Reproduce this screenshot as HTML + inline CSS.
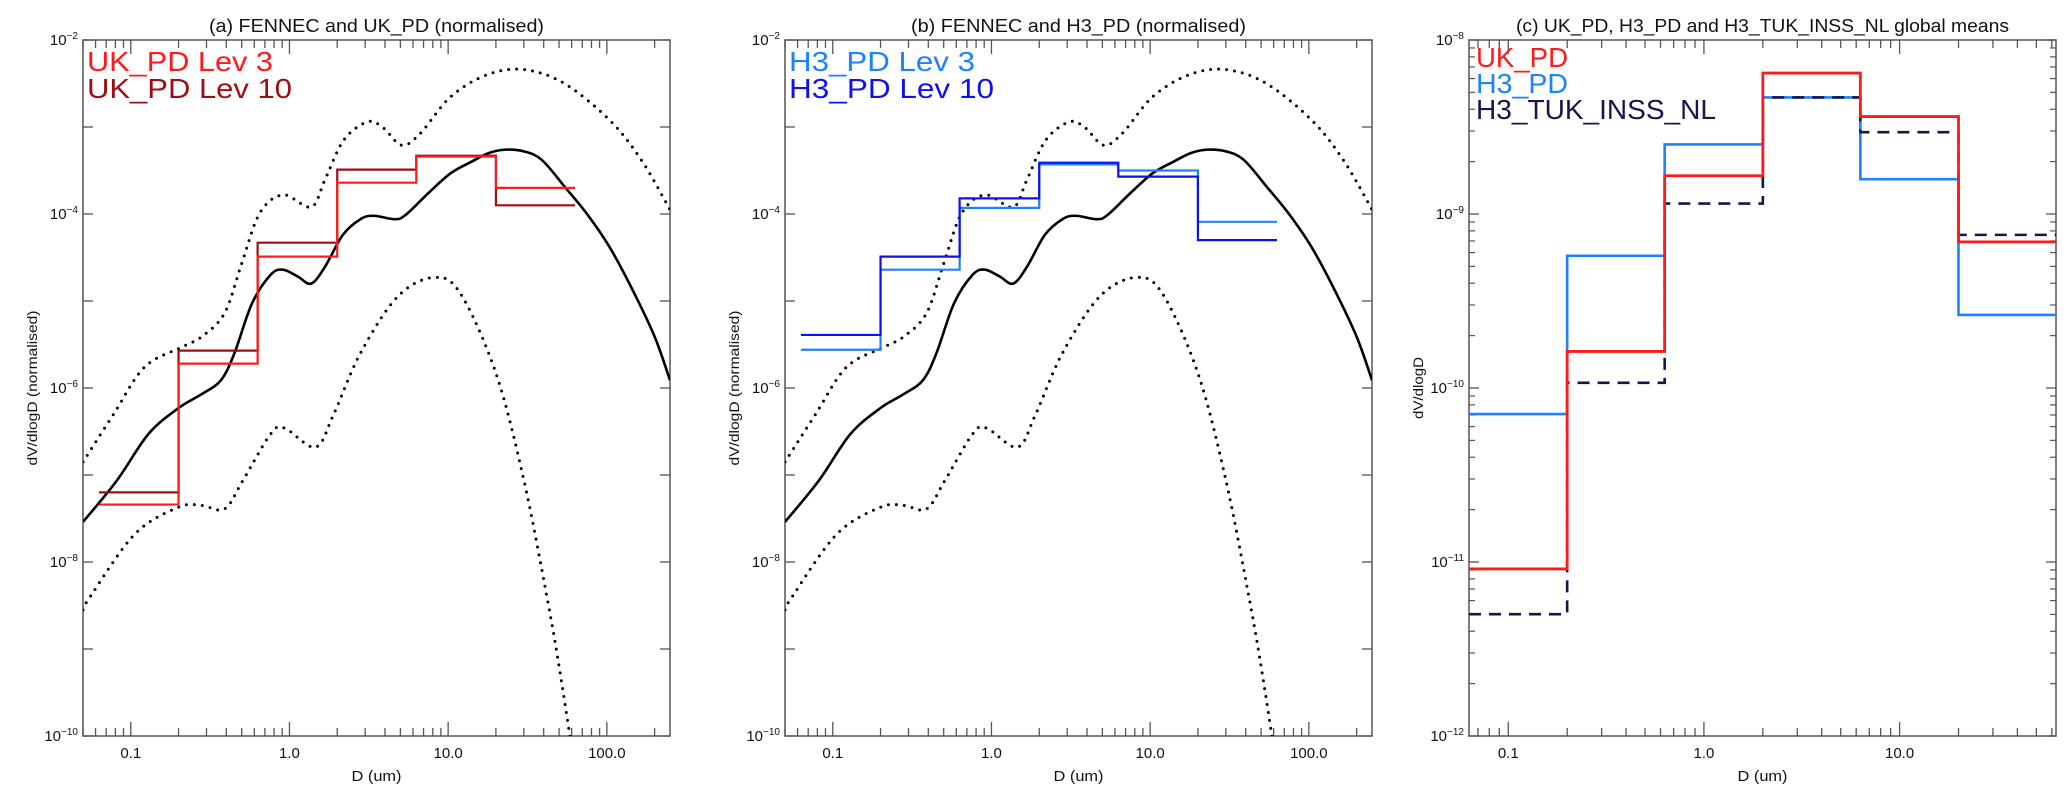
<!DOCTYPE html>
<html><head><meta charset="utf-8"><style>
html,body{margin:0;padding:0;background:#fff;}
svg{display:block;font-family:"Liberation Sans",sans-serif;}
</style></head><body>
<svg id="fig" width="2067" height="797" viewBox="0 0 2067 797"></svg>
<script>
// ---- data ----
const binEdges = [0.063, 0.2, 0.63, 2, 6.3, 20, 63];
const fennecD = [0.05,0.082,0.129,0.2,0.28,0.37,0.45,0.58,0.76,0.91,1.13,1.37,1.67,2.17,2.8,3.4,4.6,5.4,7.5,10.4,14,18,23,30,39,55,75,104,145,200,250];
const fennecMean = [-7.54,-7.06,-6.53,-6.23,-6.07,-5.91,-5.60,-5.03,-4.70,-4.64,-4.72,-4.80,-4.61,-4.24,-4.06,-4.02,-4.06,-4.01,-3.76,-3.53,-3.40,-3.30,-3.26,-3.28,-3.38,-3.70,-4.00,-4.38,-4.87,-5.41,-5.91];
const upperD = [0.05,0.078,0.122,0.21,0.28,0.39,0.50,0.65,0.91,1.37,1.67,2.2,3.1,3.9,5.1,6.7,10.4,17.6,30,54,104,165,250];
const upperVal = [-6.85,-6.30,-5.76,-5.53,-5.41,-5.14,-4.57,-3.99,-3.78,-3.92,-3.61,-3.15,-2.94,-3.01,-3.21,-3.07,-2.65,-2.40,-2.34,-2.50,-2.92,-3.38,-3.95];
const lowerD = [0.05,0.055,0.106,0.2,0.28,0.39,0.51,0.76,0.93,1.46,1.9,2.8,4.8,8.1,11.9,20,30,42,50,62];
const lowerVal = [-8.55,-8.41,-7.68,-7.37,-7.35,-7.39,-7.06,-6.53,-6.46,-6.68,-6.30,-5.60,-4.95,-4.73,-4.91,-5.83,-7.06,-8.41,-9.2,-10.3];
const ukLev3 = [-7.34,-5.72,-4.49,-3.64,-3.34,-3.70];
const ukLev10 = [-7.20,-5.57,-4.33,-3.49,-3.33,-3.90];
const h3Lev3 = [-5.56,-4.64,-3.93,-3.43,-3.50,-4.09];
const h3Lev10 = [-5.39,-4.49,-3.82,-3.41,-3.57,-4.30];
const ukMean = [-11.04,-9.79,-8.78,-8.19,-8.44,-9.16];
const h3Mean = [-10.15,-9.24,-8.60,-8.33,-8.80,-9.58];
const tukMean = [-11.30,-9.97,-8.94,-8.33,-8.53,-9.12];
const xLabelsAB = ["0.1","1.0","10.0","100.0"];
const xLabelsC = ["0.1","1.0","10.0"];

const NS="http://www.w3.org/2000/svg";
const svg=document.getElementById('fig');
function mk(tag,attrs,parent){const e=document.createElementNS(NS,tag);for(const k in attrs)e.setAttribute(k,attrs[k]);(parent||svg).appendChild(e);return e;}

function makePanel(id,x0,x1,y0,y1,xmin,xmax,ymin,ymax){
  const lx0=Math.log10(xmin),lx1=Math.log10(xmax);
  return {id,x0,x1,y0,y1,ymin,ymax,
    sx:d=>x0+(Math.log10(d)-lx0)/(lx1-lx0)*(x1-x0),
    sy:l=>y1-(l-ymin)/(ymax-ymin)*(y1-y0)};
}
const pA=makePanel('a',83,670,40,736,0.05,250,-10,-2);
const pB=makePanel('b',785,1372,40,736,0.05,250,-10,-2);
const pC=makePanel('c',1469,2056,40,736,0.063,63,-12,-8);

function axes(p,labels,majors,yMinor,title,titleLen,ytitle,ytitleLen){
  const g=mk('g',{});
  
  
  const cp=mk('clipPath',{id:'clip'+p.id},g);
  mk('rect',{x:p.x0,y:p.y0,width:p.x1-p.x0,height:p.y1-p.y0},cp);
  const fr=mk('rect',{x:p.x0,y:p.y0,width:p.x1-p.x0,height:p.y1-p.y0,fill:'none',stroke:'#555','stroke-width':1.5},g);
  
  
  for(let e=-2;e<=2;e++){for(let m=1;m<=9;m++){const d=m*Math.pow(10,e);const x=p.sx(d);
    if(x<p.x0-0.5||x>p.x1+0.5)continue;const L=m===1?14:8;
    mk('line',{x1:x,x2:x,y1:p.y1,y2:p.y1-L,stroke:'#555','stroke-width':1.3},g);
    mk('line',{x1:x,x2:x,y1:p.y0,y2:p.y0+L,stroke:'#555','stroke-width':1.3},g);}}
  majors.forEach((d,i)=>{const t=mk('text',{x:p.sx(d),y:758,'font-size':15,'text-anchor':'middle',fill:'#111'},g);t.textContent=labels[i];
    
    });
  const xt=mk('text',{x:(p.x0+p.x1)/2,y:781,'font-size':15,'text-anchor':'middle',fill:'#111',textLength:50,lengthAdjust:'spacingAndGlyphs'},g);xt.textContent='D (um)';
  
  
  for(let l=p.ymin;l<=p.ymax;l++){const y=p.sy(l);
    mk('line',{x1:p.x0,x2:p.x0+10,y1:y,y2:y,stroke:'#555','stroke-width':1.3},g);
    mk('line',{x1:p.x1,x2:p.x1-10,y1:y,y2:y,stroke:'#555','stroke-width':1.3},g);
    if(yMinor&&l<p.ymax){for(let m=2;m<=9;m++){const yy=p.sy(l+Math.log10(m));
      mk('line',{x1:p.x0,x2:p.x0+6,y1:yy,y2:yy,stroke:'#555','stroke-width':1.2},g);
      mk('line',{x1:p.x1,x2:p.x1-6,y1:yy,y2:yy,stroke:'#555','stroke-width':1.2},g);}}
    if(yMinor||(l%2===0)){const t=mk('text',{x:p.x0-5,y:y+5,'font-size':15,'text-anchor':'end',fill:'#111'},g);
      
      
      const a=mk('tspan',{},t);a.textContent='10';const b=mk('tspan',{dy:-6,'font-size':10},t);b.textContent='\u2212'+(-l);}
  }
  const tt=mk('text',{x:(p.x0+p.x1)/2,y:32,'font-size':18,'text-anchor':'middle',fill:'#111',textLength:titleLen,lengthAdjust:'spacingAndGlyphs'},g);tt.textContent=title;
  
  
  const yx=p.x0-46,yc=(p.y0+p.y1)/2;
  const yt=mk('text',{x:yx,y:yc,'font-size':14,'text-anchor':'middle',fill:'#111',transform:`rotate(-90 ${yx} ${yc})`,textLength:ytitleLen,lengthAdjust:'spacingAndGlyphs'},g);yt.textContent=ytitle;
  
  
  return g;
}

function smooth(p,ds,vs,attrs,name,g){
  const pts=ds.map((d,i)=>[p.sx(d),p.sy(vs[i])]);
  let s=`M${pts[0][0]},${pts[0][1]}`;
  for(let i=0;i<pts.length-1;i++){const p0=pts[Math.max(0,i-1)],p1=pts[i],p2=pts[i+1],p3=pts[Math.min(pts.length-1,i+2)];
    const c1=[p1[0]+(p2[0]-p0[0])/6,p1[1]+(p2[1]-p0[1])/6],c2=[p2[0]-(p3[0]-p1[0])/6,p2[1]-(p3[1]-p1[1])/6];
    s+=`C${c1[0]},${c1[1]} ${c2[0]},${c2[1]} ${p2[0]},${p2[1]}`;}
  const e=mk('path',Object.assign({d:s,fill:'none','clip-path':`url(#clip${p.id})`},attrs),g);
  
  
}
function steps(p,vals,attrs,name,g){
  let s='';
  vals.forEach((v,i)=>{const xa=p.sx(binEdges[i]),xb=p.sx(binEdges[i+1]),y=p.sy(v);
    s+=(i===0?`M${xa},${y}`:`L${xa},${y}`)+`L${xb},${y}`;});
  const e=mk('path',Object.assign({d:s,fill:'none','clip-path':`url(#clip${p.id})`},attrs),g);
  
  
}
function legend(x,y,txt,color,len,g){
  const t=mk('text',{x:x,y:y,'font-size':28,fill:color,textLength:len,lengthAdjust:'spacingAndGlyphs'},g);t.textContent=txt;
  
  
}
function fennec(p,g){
  smooth(p,upperD,upperVal,{stroke:'#000','stroke-width':3,'stroke-dasharray':'0 8','stroke-linecap':'round'},'fennec-upper-dotted',g);
  smooth(p,lowerD,lowerVal,{stroke:'#000','stroke-width':3,'stroke-dasharray':'0 8','stroke-linecap':'round'},'fennec-lower-dotted',g);
  smooth(p,fennecD,fennecMean,{stroke:'#000','stroke-width':2.6},'fennec-mean-curve',g);
}

const gA=axes(pA,xLabelsAB,[0.1,1,10,100],false,'(a) FENNEC and UK_PD (normalised)',335,'dV/dlogD (normalised)',155);
fennec(pA,gA);
steps(pA,ukLev10,{stroke:'#9b0f14','stroke-width':2.2},'uk-pd-lev10-step',gA);
steps(pA,ukLev3,{stroke:'#ff1a1a','stroke-width':2.2},'uk-pd-lev3-step',gA);
legend(87,71,'UK_PD Lev 3','#ff1a1a',186,gA);
legend(87,98,'UK_PD Lev 10','#9b0f14',205,gA);

const gB=axes(pB,xLabelsAB,[0.1,1,10,100],false,'(b) FENNEC and H3_PD (normalised)',335,'dV/dlogD (normalised)',155);
fennec(pB,gB);
steps(pB,h3Lev3,{stroke:'#1e82ff','stroke-width':2.2},'h3-pd-lev3-step',gB);
steps(pB,h3Lev10,{stroke:'#1010ee','stroke-width':2.2},'h3-pd-lev10-step',gB);
legend(789,71,'H3_PD Lev 3','#1e82ff',186,gB);
legend(789,98,'H3_PD Lev 10','#1010ee',205,gB);

const gC=axes(pC,xLabelsC,[0.1,1,10],true,'(c) UK_PD, H3_PD and H3_TUK_INSS_NL global means',493,'dV/dlogD',62);
steps(pC,h3Mean,{stroke:'#1e82ff','stroke-width':2.6},'h3-pd-mean-step',gC);
steps(pC,tukMean,{stroke:'#15154f','stroke-width':2.6,'stroke-dasharray':'12 8'},'h3-tuk-inss-nl-mean-step',gC);
steps(pC,ukMean,{stroke:'#ff1a1a','stroke-width':2.8},'uk-pd-mean-step',gC);
legend(1476,67,'UK_PD','#ff1a1a',92,gC);
legend(1476,93,'H3_PD','#1e82ff',92,gC);
legend(1476,119,'H3_TUK_INSS_NL','#15154f',240,gC);
</script>
</body></html>
